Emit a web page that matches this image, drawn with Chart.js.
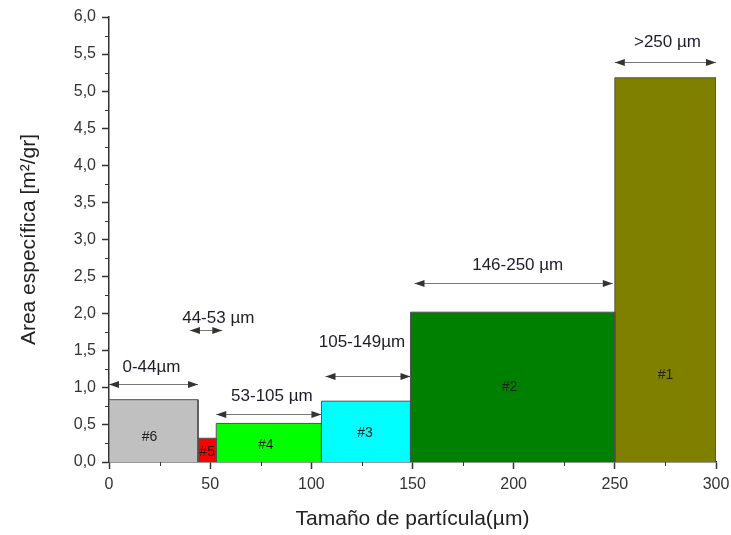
<!DOCTYPE html>
<html>
<head>
<meta charset="utf-8">
<script src="https://cdn.jsdelivr.net/npm/chart.js@4.4.0/dist/chart.umd.min.js"></script>
<style>
  html, body { margin: 0; padding: 0; background: #fff; }
</style>
</head>
<body>
<canvas id="areaCanvas" width="731" height="535"></canvas>
<script>
// particle size fractions: limits in µm, specific area in m²/gr
const fractions = ['#6', '#5', '#4', '#3', '#2', '#1'];
const lowerLimit = [0, 44, 53, 105, 149, 250];
const upperLimit = [44, 53, 105, 149, 250, 300];
const specificArea = [0.84, 0.32, 0.52, 0.82, 2.02, 5.18];
const fillColors = ['#c0c0c0', '#ff0000', '#00ff00', '#00ffff', '#008000', '#808000'];

// where each #n tag sits (x in µm, y in m²/gr)
const tagX = [20, 48.5, 77.5, 126.5, 198, 275];
const tagY = [0.34, 0.13, 0.23, 0.39, 1.01, 1.17];

// size range labels and their double arrows
const rangeText = ['0-44µm', '44-53 µm', '53-105 µm', '105-149µm', '146-250 µm', '>250 µm'];
const arrowFrom = [0, 40, 53, 107, 151, 250];
const arrowTo = [44, 56, 105, 149, 249, 300];
const arrowY = [1.05, 1.78, 0.65, 1.16, 2.42, 5.39];
const textX = [21, 54, 80.5, 125, 202, 276];
const textY = [1.27, 1.94, 0.89, 1.62, 2.65, 5.66];

const xTicks = [0, 50, 100, 150, 200, 250, 300];
const yTicks = [0, 0.5, 1, 1.5, 2, 2.5, 3, 3.5, 4, 4.5, 5, 5.5, 6];
const xMinor = [25, 75, 125, 175, 225, 275];
const yMinor = [0.25, 0.75, 1.25, 1.75, 2.25, 2.75, 3.25, 3.75, 4.25, 4.75, 5.25, 5.75];

const FONT = "'Liberation Sans', Arial, sans-serif";
const AXIS = '#333333';

// each fraction is a closed step outline filled down to zero
const datasets = fractions.map((name, i) => ({
    label: name,
    data: [
        {x: lowerLimit[i], y: 0},
        {x: lowerLimit[i], y: specificArea[i]},
        {x: upperLimit[i], y: specificArea[i]},
        {x: upperLimit[i], y: 0}
    ],
    backgroundColor: fillColors[i],
    borderColor: '#505050',
    borderWidth: 1,
    fill: 'origin',
    pointRadius: 0,
    tension: 0
}));

function drawArrowHead(ctx, x, y, dir)
{
    ctx.beginPath();
    ctx.moveTo(x, y);
    ctx.lineTo(x - dir * 10, y - 3.5);
    ctx.lineTo(x - dir * 10, y + 3.5);
    ctx.closePath();
    ctx.fill();
}

const annotations = {
    id: 'annotations',
    afterDatasetsDraw(chart) {
        const ctx = chart.ctx;
        const xs = chart.scales.x, ys = chart.scales.y;
        ctx.save();

        // #n tags
        ctx.font = '14px ' + FONT;
        ctx.fillStyle = '#1e1e1e';
        ctx.textAlign = 'center';
        ctx.textBaseline = 'middle';
        fractions.forEach((name, i) => {
            ctx.fillText(name, xs.getPixelForValue(tagX[i]), ys.getPixelForValue(tagY[i]));
        });

        // range arrows
        rangeText.forEach((txt, i) => {
            const x0 = xs.getPixelForValue(arrowFrom[i]);
            const x1 = xs.getPixelForValue(arrowTo[i]);
            const y = Math.round(ys.getPixelForValue(arrowY[i])) + 0.5;
            ctx.strokeStyle = '#777777';
            ctx.lineWidth = 1;
            ctx.beginPath();
            ctx.moveTo(x0, y);
            ctx.lineTo(x1, y);
            ctx.stroke();
            ctx.fillStyle = '#333333';
            drawArrowHead(ctx, x0, y, -1);
            drawArrowHead(ctx, x1, y, 1);

            ctx.fillStyle = '#1c1c2c';
            ctx.font = '17px ' + FONT;
            ctx.fillText(txt, xs.getPixelForValue(textX[i]), ys.getPixelForValue(textY[i]));
        });

        ctx.restore();
    },
    afterDraw(chart) {
        // minor ticks, shorter than the major ones
        const ctx = chart.ctx;
        const xs = chart.scales.x, ys = chart.scales.y;
        const area = chart.chartArea;
        ctx.save();
        ctx.strokeStyle = AXIS;
        ctx.lineWidth = 1;
        ctx.beginPath();
        xMinor.forEach(v => {
            const x = Math.round(xs.getPixelForValue(v)) + 0.5;
            ctx.moveTo(x, area.bottom);
            ctx.lineTo(x, area.bottom + 4);
        });
        yMinor.forEach(v => {
            const y = Math.round(ys.getPixelForValue(v)) + 0.5;
            ctx.moveTo(area.left, y);
            ctx.lineTo(area.left - 4, y);
        });
        ctx.stroke();
        ctx.restore();
    }
};

new Chart(document.getElementById('areaCanvas'), {
    type: 'line',
    data: { datasets: datasets },
    plugins: [annotations],
    options: {
        responsive: false,
        animation: false,
        layout: { padding: { top: 17, right: 15, left: 0, bottom: 0 } },
        plugins: {
            legend: { display: false },
            tooltip: { enabled: false }
        },
        scales: {
            x: {
                type: 'linear',
                min: 0,
                max: 300,
                afterBuildTicks: s => { s.ticks = xTicks.map(v => ({value: v})); },
                afterFit: s => { s.height = 73; s.paddingLeft = 0; s.paddingRight = 0; },
                ticks: {
                    font: { family: FONT, size: 16 },
                    color: AXIS,
                    padding: 6,
                    maxRotation: 0
                },
                grid: { drawOnChartArea: false, drawTicks: true, tickLength: 7, tickColor: AXIS, tickWidth: 1.5 },
                border: { display: true, color: AXIS, width: 1.5 },
                title: {
                    display: true,
                    text: 'Tamaño de partícula(µm)',
                    font: { family: FONT, size: 21 },
                    color: '#222222',
                    padding: { top: 0, bottom: 3 }
                }
            },
            y: {
                type: 'linear',
                min: 0,
                max: 6,
                afterBuildTicks: s => { s.ticks = yTicks.map(v => ({value: v})); },
                afterFit: s => { s.width = 109; s.paddingTop = 0; s.paddingBottom = 0; },
                ticks: {
                    font: { family: FONT, size: 16 },
                    color: AXIS,
                    padding: 6,
                    callback: v => v.toFixed(1).replace('.', ',')
                },
                grid: { drawOnChartArea: false, drawTicks: true, tickLength: 7, tickColor: AXIS, tickWidth: 1.5 },
                border: { display: true, color: AXIS, width: 1.5 },
                title: {
                    display: true,
                    text: 'Area específica [m²/gr]',
                    font: { family: FONT, size: 21 },
                    color: '#222222',
                    padding: { top: 17, bottom: 0 }
                }
            }
        }
    }
});
</script>
</body>
</html>
